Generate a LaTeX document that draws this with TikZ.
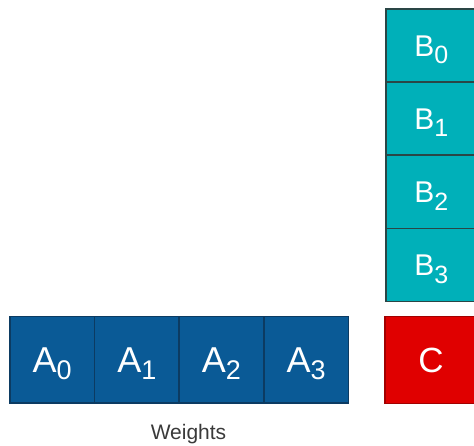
\documentclass[tikz,border=0pt]{standalone}
\usepackage{fontspec}
\setmainfont{Liberation Sans}

\definecolor{wfill}{HTML}{0A5A96}
\definecolor{wline}{HTML}{0C3B62}
\definecolor{bfill}{HTML}{00B0B9}
\definecolor{bline}{HTML}{2A4646}
\definecolor{cfill}{HTML}{E00000}
\definecolor{cline}{HTML}{A20000}
\definecolor{labelgray}{HTML}{3A3A3A}

% lowered index digit of a cell name
\newcommand{\cellsub}[3]{\raisebox{-#2}{\fontsize{#1}{#1}\selectfont #3}}

\begin{document}
\begin{tikzpicture}[x=1pt, y=-1pt,
    cell/.style={draw, line width=1.5pt, inner sep=0pt, anchor=north west, text=white, text depth=0pt},
    wcell/.style={cell, fill=wfill, draw=wline, minimum width=84.7pt, minimum height=86.5pt,
        font=\fontsize{36}{36}\selectfont, text height=26pt},
    bcell/.style={cell, fill=bfill, draw=bline, minimum width=91pt, minimum height=73.2pt,
        font=\fontsize{30}{30}\selectfont, text height=21.5pt},
    ccell/.style={cell, fill=cfill, draw=cline, minimum width=92pt, minimum height=86.7pt,
        font=\fontsize{35}{35}\selectfont, text height=25pt}]
    \useasboundingbox (0,0) rectangle (474,445);
    \clip (0,0) rectangle (474,445);

    % weight row
    \node[wcell] (a0) at (9,315.8) {A\cellsub{27}{7pt}{0}};
    \node[wcell] (a1) at (93.7,315.8) {A\cellsub{27}{7pt}{1}};
    \node[wcell] (a2) at (178.4,315.8) {A\cellsub{27}{7pt}{2}};
    \node[wcell] (a3) at (263.1,315.8) {A\cellsub{27}{7pt}{3}};
    \node[font=\fontsize{21}{21}\selectfont, text=labelgray, text height=15pt, text depth=0pt]
        (weights) at (188.5,432) {Weights};

    % input column
    \node[bcell] (b0) at (385,8) {B\cellsub{25}{7.5pt}{0}};
    \node[bcell] (b1) at (385,81.2) {B\cellsub{25}{7.5pt}{1}};
    \node[bcell] (b2) at (385,154.4) {B\cellsub{25}{7.5pt}{2}};
    \node[bcell] (b3) at (385,227.6) {B\cellsub{25}{7.5pt}{3}};

    % result
    \node[ccell] (c) at (384.3,315.8) {C};
\end{tikzpicture}
\end{document}
